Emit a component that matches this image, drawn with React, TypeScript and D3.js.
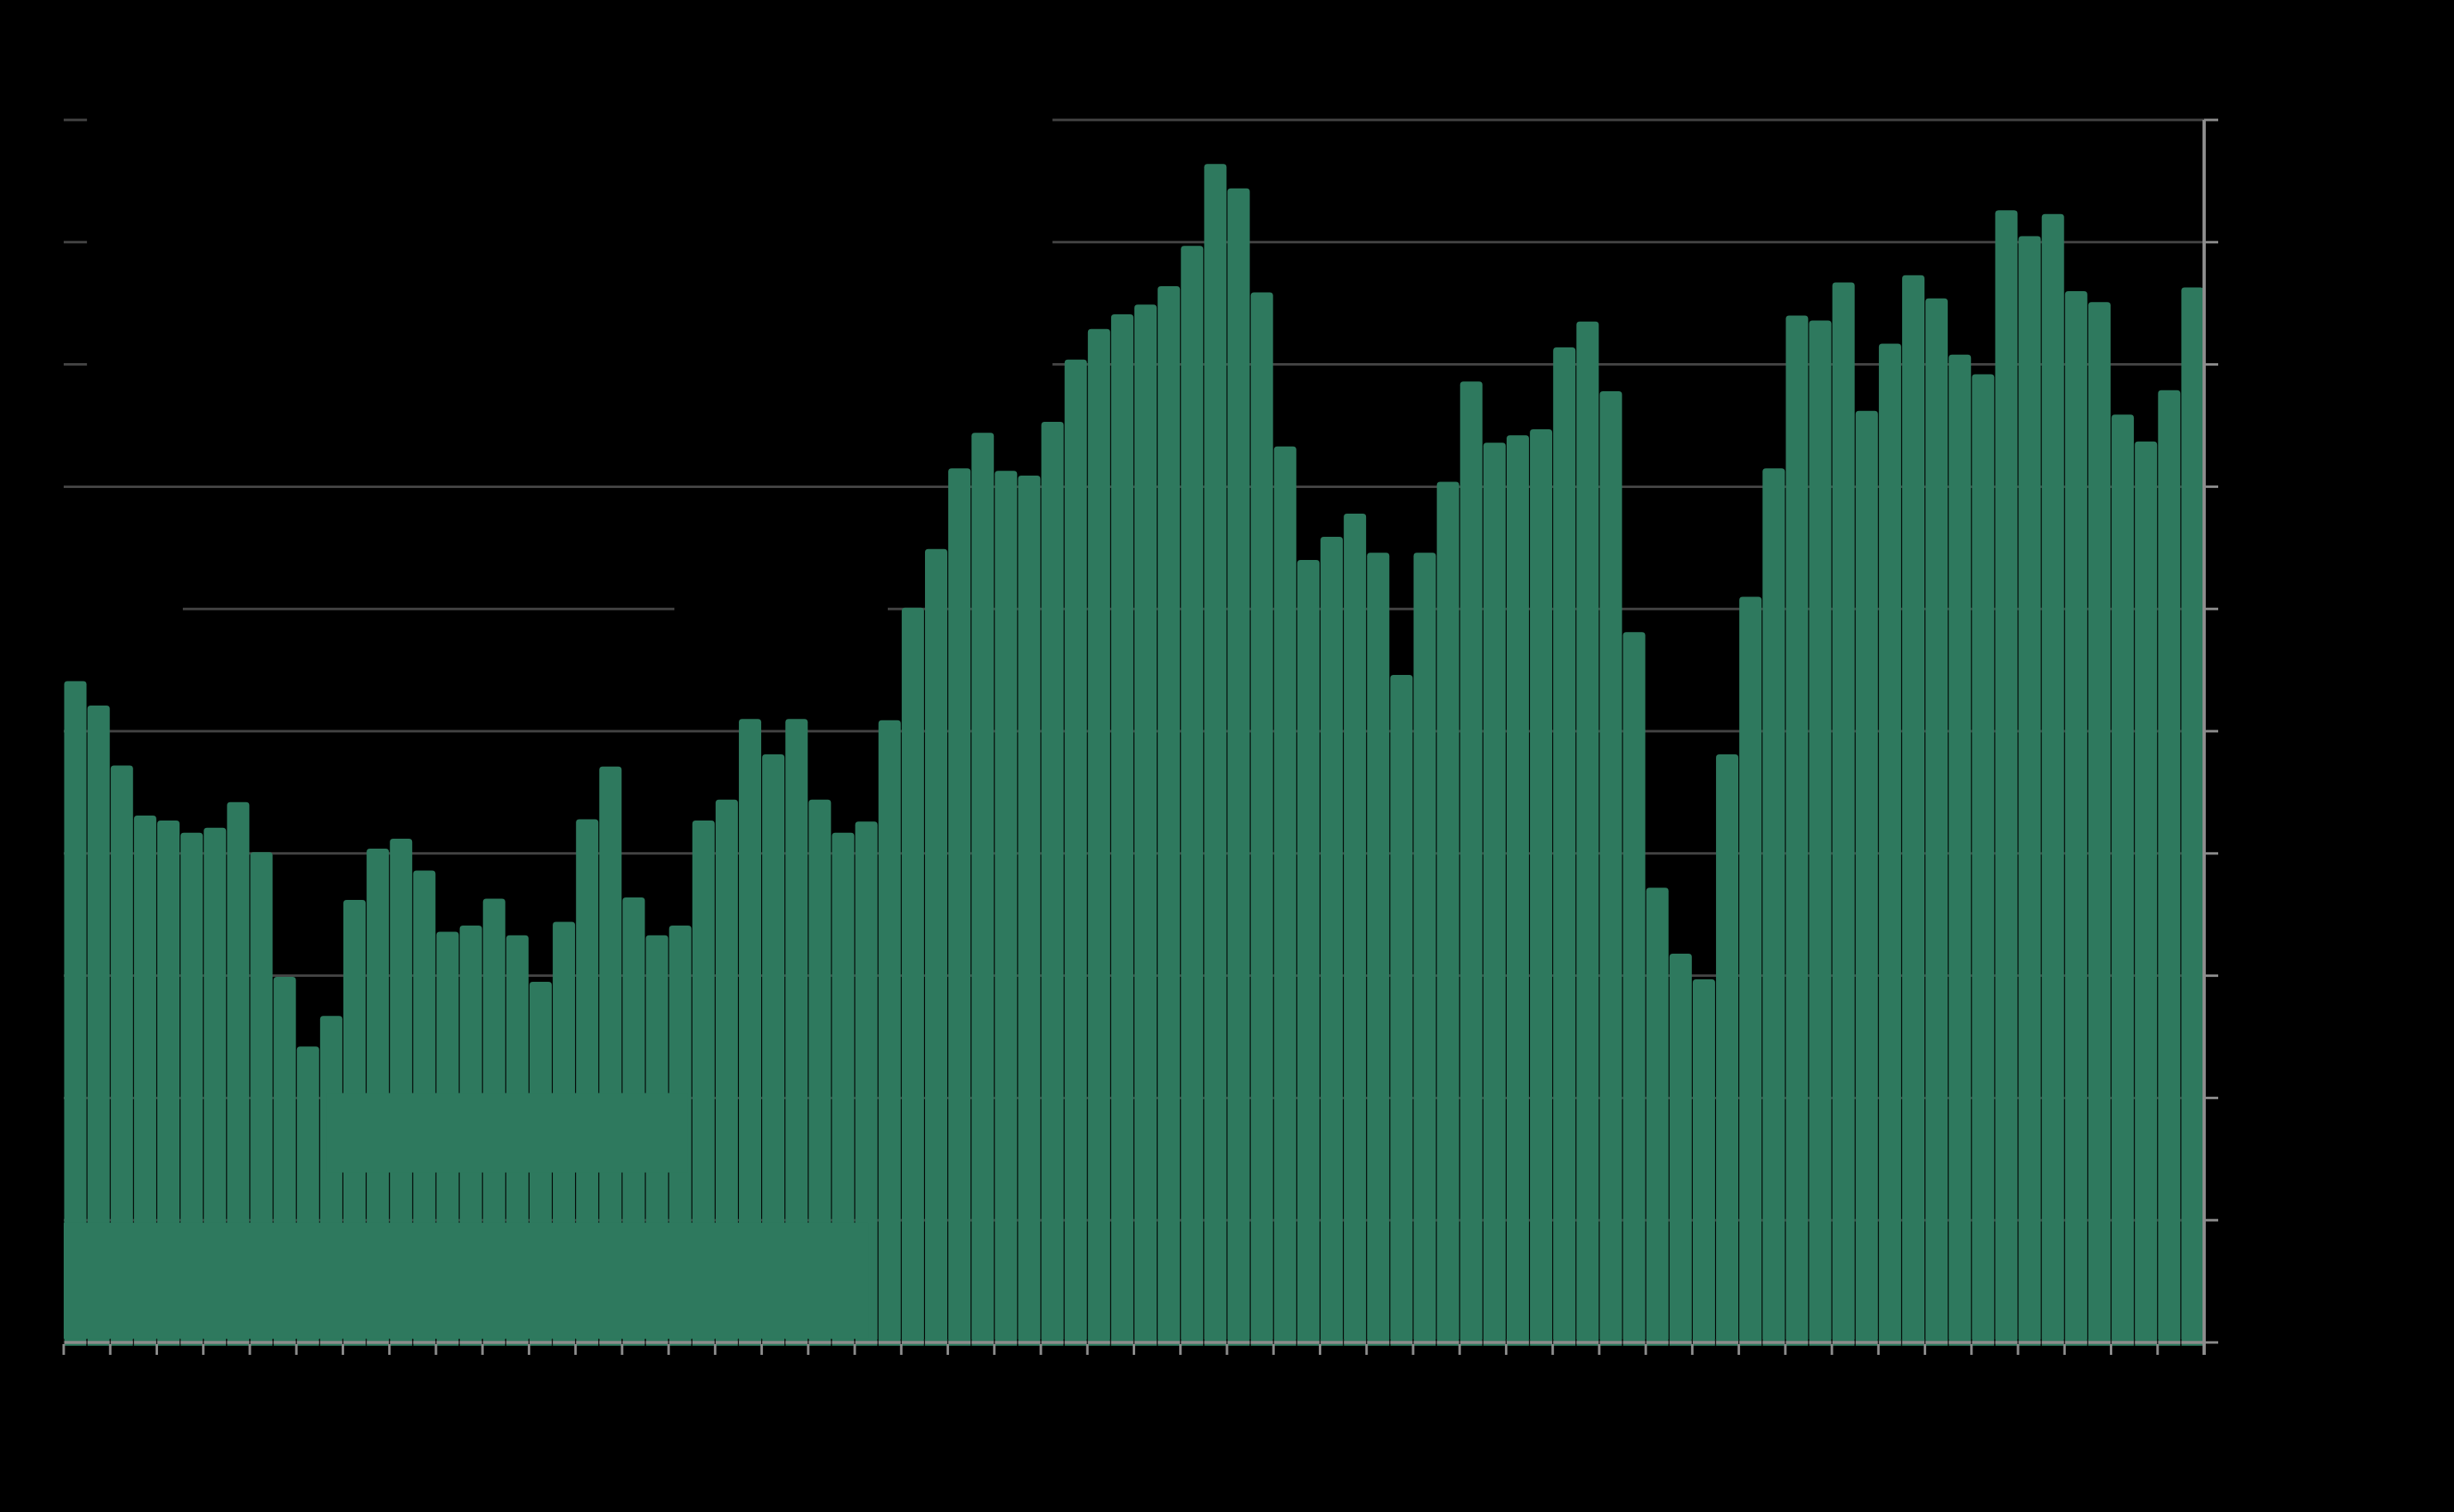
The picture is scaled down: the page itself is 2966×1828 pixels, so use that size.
import React from "react";
import * as d3 from "d3";

// ---- data ----
const years = ["2000","2001","2002","2003","2004","2005","2006","2007","2008","2009","2010","2011","2012","2013","2014","2015","2016","2017","2018","2019","2020","2021","2022"];
const quarters = ["Q1", "Q2", "Q3", "Q4"];
const categories: string[] = years.flatMap((yr) => quarters.map((q) => `${q} ${yr}`));

const values = [
  5.41, 5.21, 4.72, 4.31, 4.27, 4.17, 4.21, 4.42, 4.01, 2.99,
  2.42, 2.67, 3.62, 4.04, 4.12, 3.86, 3.36, 3.41, 3.63, 3.33,
  2.95, 3.44, 4.28, 4.71, 3.64, 3.33, 3.41, 4.27, 4.44, 5.10,
  4.81, 5.10, 4.44, 4.17, 4.26, 5.09, 6.01, 6.49, 7.15, 7.44,
  7.13, 7.09, 7.53, 8.04, 8.29, 8.41, 8.49, 8.64, 8.97, 9.64,
  9.44, 8.59, 7.33, 6.40, 6.59, 6.78, 6.46, 5.46, 6.46, 7.04,
  7.86, 7.36, 7.42, 7.47, 8.14, 8.35, 7.78, 5.81, 3.72, 3.18,
  2.97, 4.81, 6.10, 7.15, 8.40, 8.36, 8.67, 7.62, 8.17, 8.73,
  8.54, 8.08, 7.92, 9.26, 9.05, 9.23, 8.60, 8.51, 7.59, 7.37,
  7.79, 8.63,
];

const yTicks = [0, 1, 2, 3, 4, 5, 6, 7, 8, 9, 10];
const xLabelYears = years;

const titleText = "Quarterly index";
const subtitleText = "Index value per quarter, 2000–2022";
// annotation boxes (band-boundary units, value units)
const darkNotes = [
  { text: "Before", b0: 0, b1: 5.12, v0: 6.2, v1: 5.75 },
  { text: "After", b0: 26.25, b1: 35.42, v0: 6.2, v1: 5.75 },
];
const barNotes = [
  { text: "Low phase", b0: 11.3, b1: 26.8, v0: 2.04, v1: 1.39 },
  { text: "Baseline level", b0: 0, b1: 34.6, v0: 0.98, v1: 0.03 },
];

const W = 2966;
const H = 1828;
const BAR = "#2e795e";
const GRID = "#434343";
const AXIS = "#8c8c8c";

export default function App() {
  const x = d3
    .scaleBand<string>()
    .domain(categories)
    .range([77, 2664])
    .paddingInner(0.04)
    .paddingOuter(0.02);
  const y = d3.scaleLinear().domain([0, 10]).range([1623, 145]);
  const step = x.step();
  const x0 = x.range()[0];
  const bx = (b: number) => x0 + b * step;
  const base = y(0);
  const bw = x.bandwidth();
  const r = 4;

  const boundaries = d3.range(0, categories.length + 1);

  const barPath = (c: string, v: number) => {
    const left = x(c)!;
    const top = y(v);
    const bottom = base + 4;
    return `M${left},${bottom}V${top + r}Q${left},${top} ${left + r},${top}H${left + bw - r}Q${left + bw},${top} ${left + bw},${top + r}V${bottom}Z`;
  };

  return (
    <div style={{ position: "absolute", left: 0, top: 0, width: W, height: H, background: "#000" }}>
      <svg width={W} height={H} style={{ display: "block" }} fontFamily="Roboto, 'Noto Sans', sans-serif">
        <rect x={0} y={0} width={W} height={H} fill="#000" />
        {/* gridlines */}
        {yTicks.map((t) => (
          <line key={`g${t}`} x1={x0} x2={x.range()[1]} y1={y(t)} y2={y(t)} stroke={GRID} strokeWidth={3} />
        ))}
        {/* title block (black background) */}
        <g>
          <rect x={bx(1)} y={y(10.2)} width={bx(42.5) - bx(1)} height={y(7.8) - y(10.2)} fill="#000" />
          <text x={bx(1) + 10} y={y(9.6)} fill="#000" fontSize={64} fontWeight={700}>{titleText}</text>
          <text x={bx(1) + 10} y={y(8.9)} fill="#000" fontSize={40}>{subtitleText}</text>
        </g>
        {darkNotes.map((n, i) => (
          <g key={`dn${i}`}>
            <rect x={bx(n.b0)} y={y(n.v0)} width={bx(n.b1) - bx(n.b0)} height={y(n.v1) - y(n.v0)} fill="#000" />
            <text x={(bx(n.b0) + bx(n.b1)) / 2} y={(y(n.v0) + y(n.v1)) / 2 + 10} textAnchor="middle" fill="#000" fontSize={28}>{n.text}</text>
          </g>
        ))}
        {/* bars */}
        {categories.map((c, i) => (
          <path key={c} d={barPath(c, values[i])} fill={BAR} />
        ))}
        {barNotes.map((n, i) => (
          <g key={`bn${i}`}>
            <rect x={bx(n.b0)} y={y(n.v0)} width={bx(n.b1) - bx(n.b0)} height={y(n.v1) - y(n.v0)} fill={BAR} />
            <text x={(bx(n.b0) + bx(n.b1)) / 2} y={(y(n.v0) + y(n.v1)) / 2 + 12} textAnchor="middle" fill={BAR} fontSize={34}>{n.text}</text>
          </g>
        ))}
        {/* x axis */}
        <line x1={x0} x2={x.range()[1]} y1={base} y2={base} stroke={AXIS} strokeWidth={3.5} />
        {boundaries.map((b) => (
          <line key={`mt${b}`} x1={bx(b)} x2={bx(b)} y1={base - 4} y2={base + 4} stroke="#111" strokeWidth={1.2} />
        ))}
        {boundaries.filter((b) => b % 2 === 0).map((b) => (
          <line key={`t${b}`} x1={bx(b)} x2={bx(b)} y1={base + 2} y2={base + 15} stroke={AXIS} strokeWidth={3} />
        ))}
        {xLabelYears.map((yr, i) => (
          <text key={`xl${yr}`} x={bx(i * 4 + 2)} y={base + 55} textAnchor="middle" fill="#000" fontSize={32}>{yr}</text>
        ))}
        {/* right y axis */}
        <line x1={x.range()[1]} x2={x.range()[1]} y1={y(10)} y2={base + 15} stroke={AXIS} strokeWidth={4} />
        {yTicks.map((t) => (
          <g key={`yt${t}`}>
            <line x1={x.range()[1]} x2={x.range()[1] + 17} y1={y(t)} y2={y(t)} stroke={AXIS} strokeWidth={3} />
            <text x={x.range()[1] + 30} y={y(t) + 11} fill="#000" fontSize={32}>{t}</text>
          </g>
        ))}
      </svg>
    </div>
  );
}
